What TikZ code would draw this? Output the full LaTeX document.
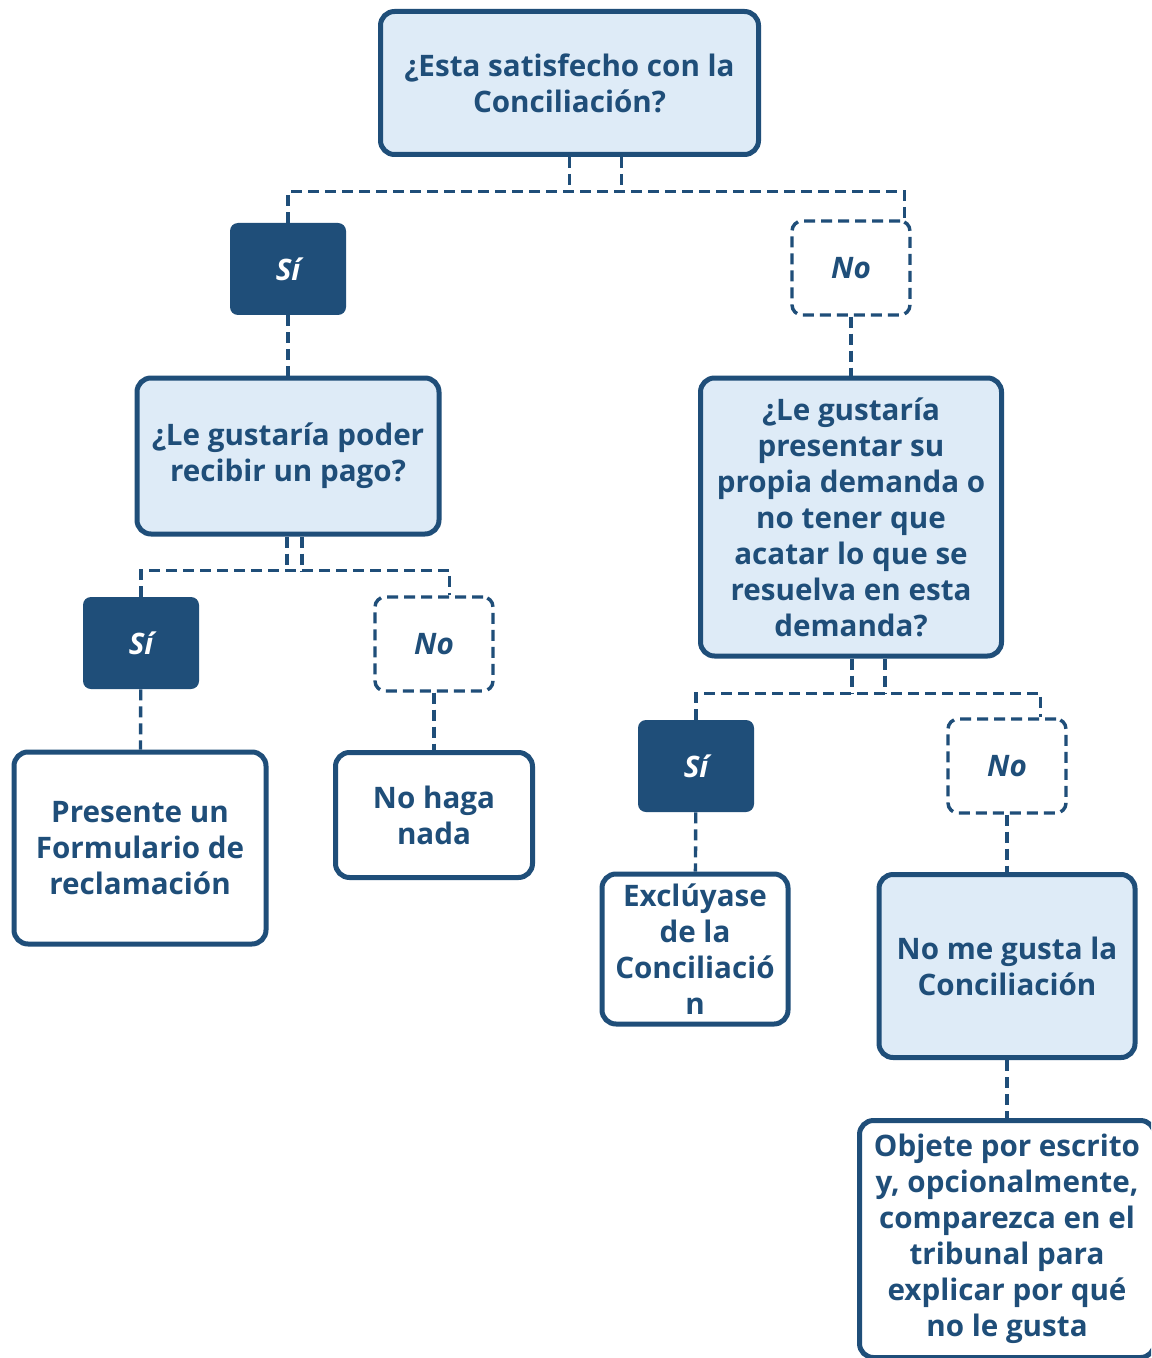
\documentclass[tikz,border=0pt]{standalone}
\usepackage{fontspec}
\setmainfont{Open Sans}
\usetikzlibrary{positioning, calc}
\definecolor{navy}{RGB}{31,78,121}
\definecolor{paleblue}{RGB}{222,235,247}

\tikzset{
  qbox/.style={draw=navy, line width=2.5pt, fill=paleblue, rounded corners=7pt, align=center, text=navy,
    inner sep=2pt, font=\bfseries\fontsize{14.8}{18}\selectfont},
  endbox/.style={qbox, fill=white},
  yesbox/.style={fill=navy, rounded corners=4pt, minimum width=58pt, minimum height=46pt, text=white,
    font=\bfseries\itshape\fontsize{14.8}{18}\selectfont},
  nobox/.style={draw=navy, line width=1.7pt, dash pattern=on 5.5pt off 3pt, fill=white, rounded corners=5pt,
    minimum width=59pt, minimum height=47pt, text=navy, font=\bfseries\itshape\fontsize{14.8}{18}\selectfont},
  link/.style={draw=navy, line width=1.7pt, dash pattern=on 5.5pt off 3pt}
}

\begin{document}
\begin{tikzpicture}[x=0.5pt, y=-0.5pt]
  \clip (0,0) rectangle (1151,1358);
  \fill[white] (0,0) rectangle (1151,1358);

  % questions
  \node[qbox, minimum width=189pt, minimum height=71.5pt] (top) at (569.5,83) {¿Esta satisfecho con la\\Conciliación?};
  \node[qbox, minimum width=151pt, minimum height=78pt] (pago) at (288,456) {¿Le gustaría poder\\recibir un pago?};
  \node[qbox, minimum width=150.5pt, minimum height=139pt] (demanda) at (851,517)
    {¿Le gustaría\\presentar su\\propia demanda o\\no tener que\\acatar lo que se\\resuelva en esta\\demanda?};

  % answers
  \node[yesbox] (si1) at (288,269) {Sí};
  \node[nobox] (no1) at (851,268) {No};
  \node[yesbox] (si2) at (141,643) {Sí};
  \node[nobox] (no2) at (434,644) {No};
  \node[yesbox] (si3) at (696,766) {Sí};
  \node[nobox] (no3) at (1007,766) {No};

  % outcomes
  \node[endbox, minimum width=126pt, minimum height=96pt] (form) at (140,848) {Presente un\\Formulario de\\reclamación};
  \node[endbox, minimum width=98.5pt, minimum height=62.5pt] (nada) at (434,815) {No haga\\nada};
  \node[endbox, minimum width=93pt, minimum height=75pt] (excl) at (695,949) {Exclúyase\\de la\\Conciliació\\n};
  \node[qbox, minimum width=128pt, minimum height=91.5pt] (gusta) at (1007,966) {No me gusta la\\Conciliación};
  \node[endbox, minimum width=147.5pt, minimum height=118.5pt] (objete) at (1007,1239)
    {Objete por escrito\\y, opcionalmente,\\comparezca en el\\tribunal para\\explicar por qué\\no le gusta};

  % connectors
  \draw[link] (top.south) -- ++(0,35);
  \draw[link] ([xshift=26pt]top.south) -- ++(0,35);
  \draw[link] (si1.north) -- ++(0,-31) -| ([xshift=-3.5pt]no1.north east);
  \draw[link] (si1) -- (pago);
  \draw[link] (no1) -- (demanda);

  \draw[link] ([xshift=-0.5pt]pago.south) -- ++(0,35);
  \draw[link] ([xshift=7pt]pago.south) -- ++(0,35);
  \draw[link] (si2.north) -- ++(0,-26) -| ([xshift=-22.5pt]no2.north east);
  \draw[link] (si2) -- (form);
  \draw[link] (no2) -- (nada);

  \draw[link] ([xshift=0.5pt]demanda.south) -- ++(0,35);
  \draw[link] ([xshift=17pt]demanda.south) -- ++(0,35);
  \draw[link] (si3.north) -- ++(0,-26) -| ([xshift=-13.5pt]no3.north east);
  \draw[link] (si3) -- (excl);
  \draw[link] (no3) -- (gusta);
  \draw[link] (gusta) -- (objete);
\end{tikzpicture}
\end{document}
